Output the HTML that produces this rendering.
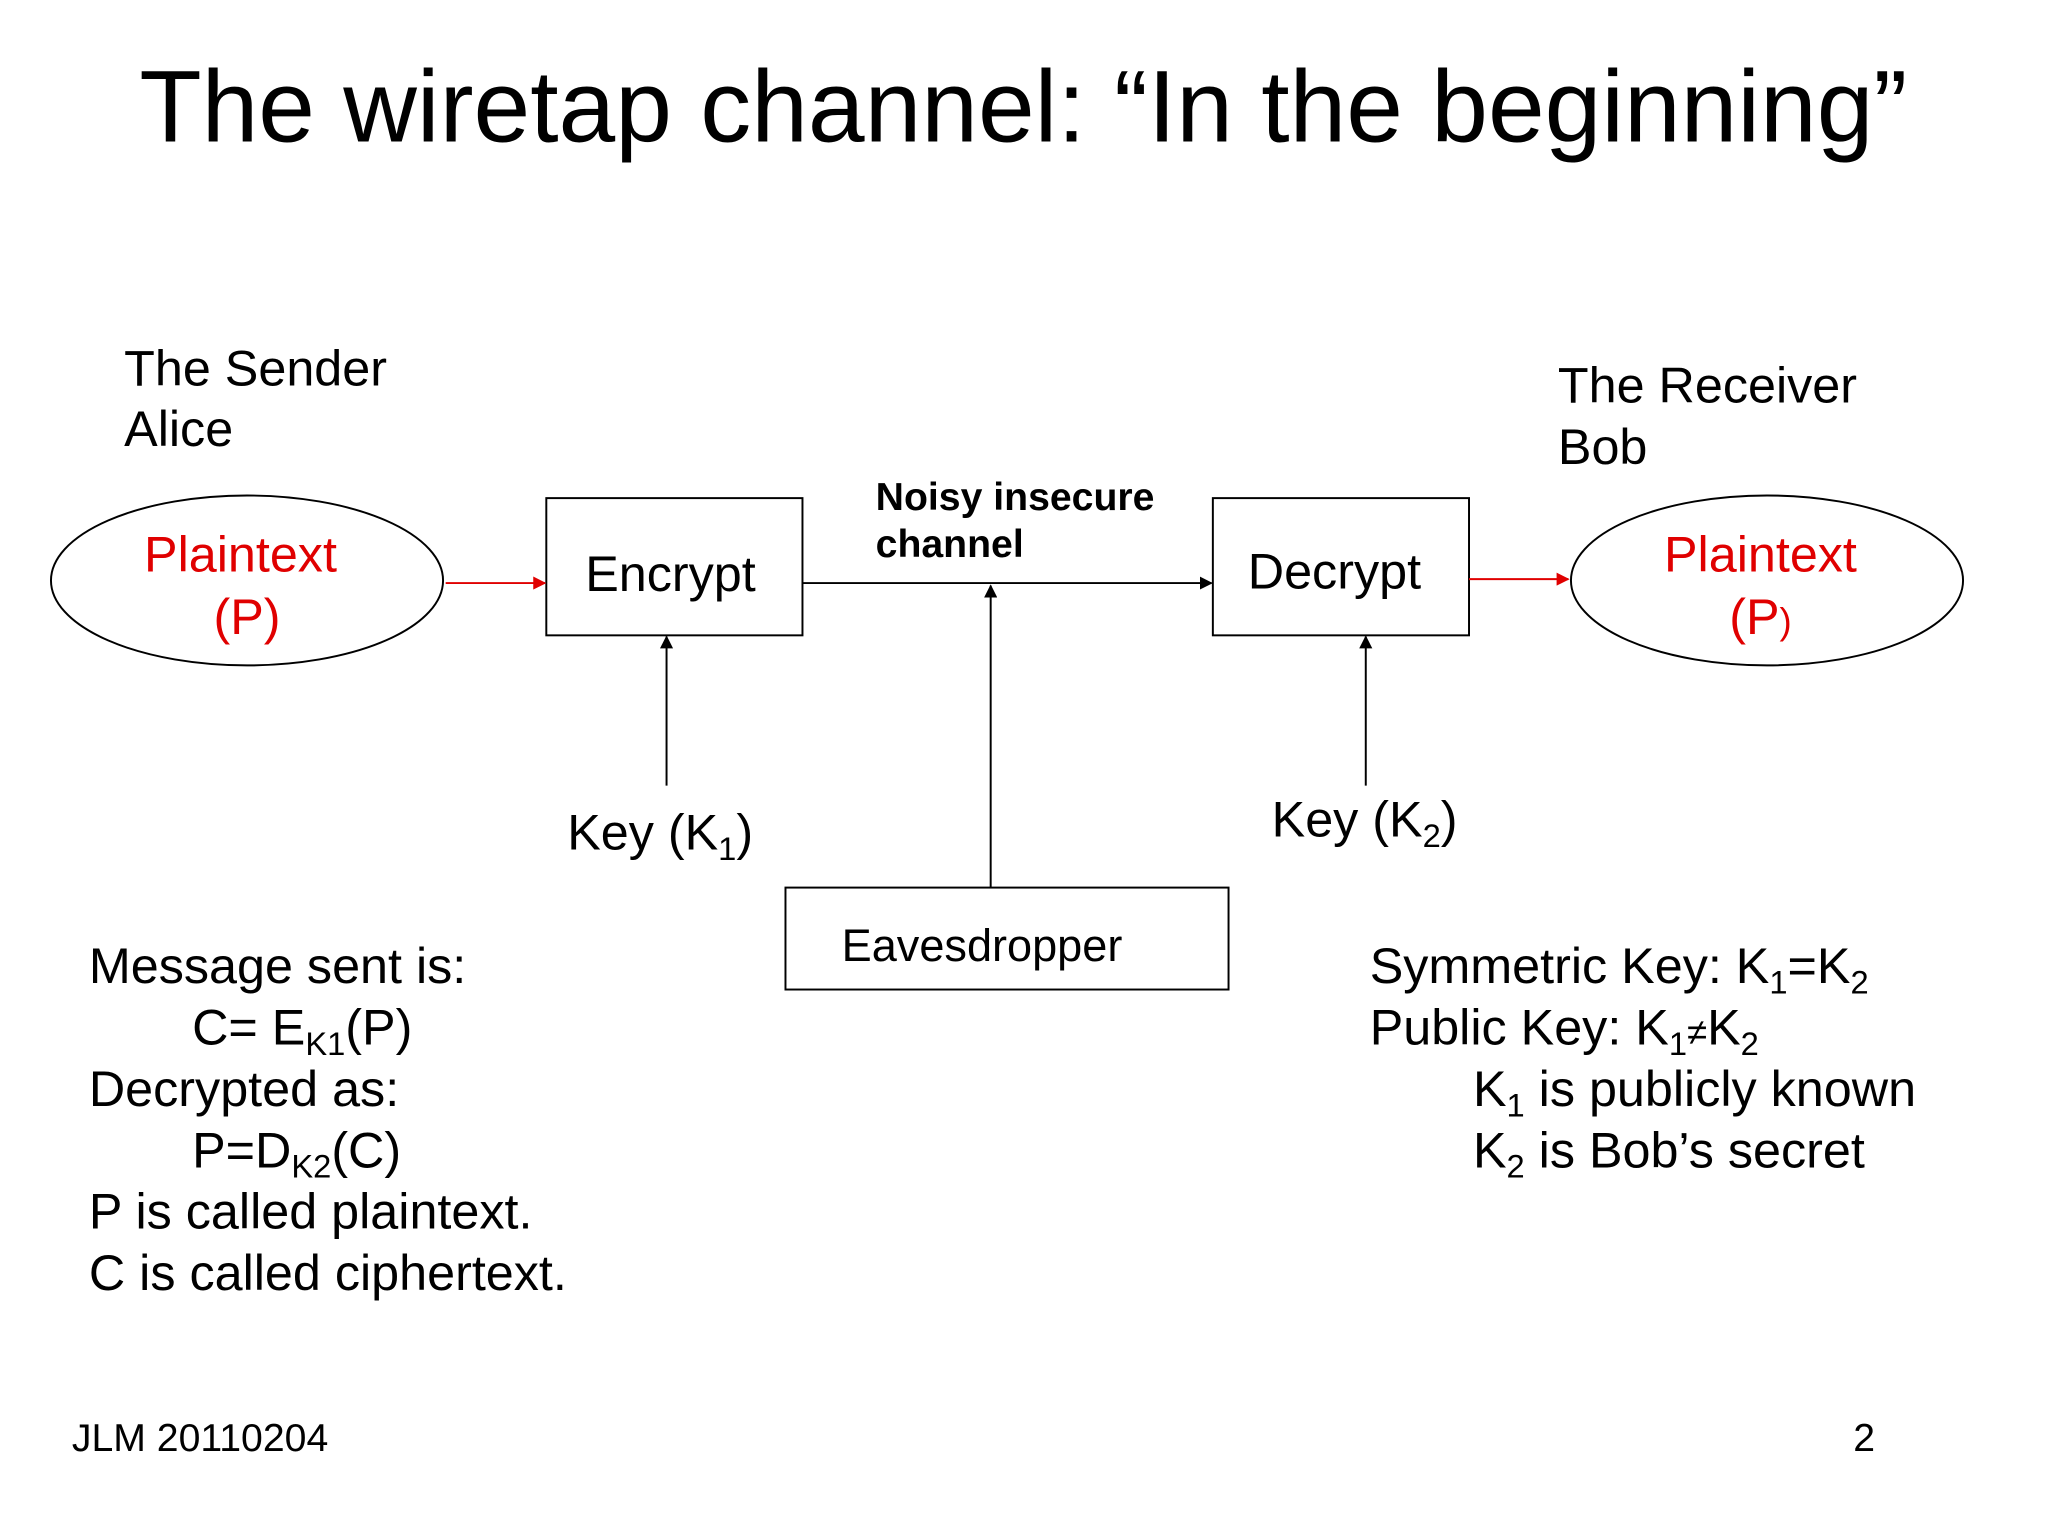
<!DOCTYPE html>
<html><head><meta charset="utf-8"><style>
html,body{margin:0;padding:0;background:#fff;}
svg{display:block;}
text{font-family:"Liberation Sans",sans-serif;}
</style></head><body>
<svg width="2048" height="1536" viewBox="0 0 1567 1175" xmlns="http://www.w3.org/2000/svg">
<defs>
<marker id="ab" markerWidth="10" markerHeight="10" refX="9" refY="5" orient="auto" markerUnits="userSpaceOnUse"><path d="M0,0 L10,5 L0,10 z" fill="#000"/></marker>
<marker id="ar" markerWidth="10" markerHeight="10" refX="9" refY="5" orient="auto" markerUnits="userSpaceOnUse"><path d="M0,0 L10,5 L0,10 z" fill="#e00000"/></marker>
</defs>
<text x="783" y="108" font-size="78" text-anchor="middle">The wiretap channel: “In the beginning”</text>
<g font-size="38.5">
<text x="95" y="295">The Sender</text>
<text x="95" y="341">Alice</text>
<text x="1192" y="308">The Receiver</text>
<text x="1192" y="355">Bob</text>
</g>
<ellipse cx="189" cy="444" rx="150" ry="65" fill="none" stroke="#000" stroke-width="1.5"/>
<ellipse cx="1352" cy="444" rx="150" ry="65" fill="none" stroke="#000" stroke-width="1.5"/>
<text x="184" y="437" font-size="38.5" fill="#e00000" text-anchor="middle">Plaintext</text>
<text x="189" y="485" font-size="38.5" fill="#e00000" text-anchor="middle">(P)</text>
<text x="1347" y="437" font-size="38.5" fill="#e00000" text-anchor="middle">Plaintext</text>
<text x="1347" y="485" font-size="38.5" fill="#e00000" text-anchor="middle">(P<tspan font-size="28">)</tspan></text>
<rect x="418" y="381" width="196" height="105" fill="none" stroke="#000" stroke-width="1.5"/>
<rect x="928" y="381" width="196" height="105" fill="none" stroke="#000" stroke-width="1.5"/>
<text x="513" y="452" font-size="38.5" text-anchor="middle">Encrypt</text>
<text x="1021" y="450" font-size="38.5" text-anchor="middle">Decrypt</text>
<line x1="341" y1="446" x2="417" y2="446" stroke="#e00000" stroke-width="1.5" marker-end="url(#ar)"/>
<line x1="1124" y1="443" x2="1200" y2="443" stroke="#e00000" stroke-width="1.5" marker-end="url(#ar)"/>
<line x1="614" y1="446" x2="927" y2="446" stroke="#000" stroke-width="1.5" marker-end="url(#ab)"/>
<text x="670" y="390" font-size="30" font-weight="bold">Noisy insecure</text>
<text x="670" y="426" font-size="30" font-weight="bold">channel</text>
<line x1="758" y1="679" x2="758" y2="448" stroke="#000" stroke-width="1.5" marker-end="url(#ab)"/>
<rect x="601" y="679" width="339" height="78" fill="none" stroke="#000" stroke-width="1.5"/>
<text x="644" y="735" font-size="34.5">Eavesdropper</text>
<line x1="510" y1="601" x2="510" y2="487" stroke="#000" stroke-width="1.5" marker-end="url(#ab)"/>
<line x1="1045" y1="601" x2="1045" y2="487" stroke="#000" stroke-width="1.5" marker-end="url(#ab)"/>
<text x="434" y="650" font-size="38.5">Key (K<tspan font-size="25" dy="8">1</tspan><tspan dy="-8">)</tspan></text>
<text x="973" y="640" font-size="38.5">Key (K<tspan font-size="25" dy="8">2</tspan><tspan dy="-8">)</tspan></text>
<g font-size="38.5">
<text x="68" y="752">Message sent is:</text>
<text x="147" y="799">C= E<tspan font-size="25" dy="8">K1</tspan><tspan dy="-8">(P)</tspan></text>
<text x="68" y="846">Decrypted as:</text>
<text x="147" y="893">P=D<tspan font-size="25" dy="8">K2</tspan><tspan dy="-8">(C)</tspan></text>
<text x="68" y="940">P is called plaintext.</text>
<text x="68" y="987">C is called ciphertext.</text>
<text x="1048" y="752">Symmetric Key: K<tspan font-size="25" dy="8">1</tspan><tspan dy="-8">=K</tspan><tspan font-size="25" dy="8">2</tspan></text>
<text x="1048" y="799">Public Key: K<tspan font-size="25" dy="8">1</tspan><tspan dy="-8" font-size="28">≠</tspan><tspan>K</tspan><tspan font-size="25" dy="8">2</tspan></text>
<text x="1127" y="846">K<tspan font-size="25" dy="8">1</tspan><tspan dy="-8"> is publicly known</tspan></text>
<text x="1127" y="893">K<tspan font-size="25" dy="8">2</tspan><tspan dy="-8"> is Bob’s secret</tspan></text>
</g>
<text x="55" y="1110" font-size="30">JLM 20110204</text>
<text x="1418" y="1110" font-size="30">2</text>
</svg>
</body></html>
